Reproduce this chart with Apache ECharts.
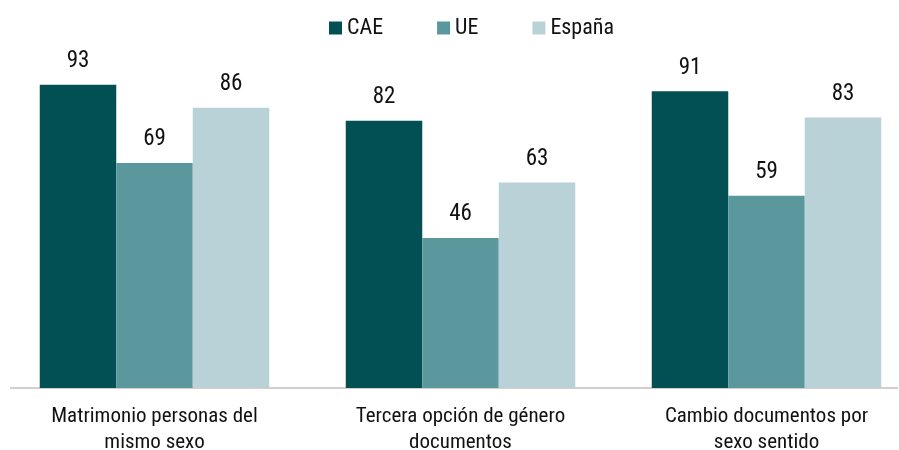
<!DOCTYPE html>
<html>
<head>
<meta charset="utf-8">
<script src="https://cdn.jsdelivr.net/npm/echarts@6/dist/echarts.min.js"></script>
<style>
  html, body { margin: 0; padding: 0; background: #fff; }
  #main { width: 899px; height: 450px; }
</style>
</head>
<body>
<div id="main"></div>
<script>
const categories = ['Matrimonio personas del\nmismo sexo', 'Tercera opción de género\ndocumentos', 'Cambio documentos por\nsexo sentido'];
const cae = [93, 82, 91];
const ue = [69, 46, 59];
const espana = [86, 63, 83];

const FONT = '"Liberation Sans Narrow", "Roboto Condensed", "DejaVu Sans Condensed", sans-serif';

const myChart = echarts.init(document.getElementById('main'));

const labelCfg = {
    show: true,
    position: 'top',
    distance: 12,
    fontFamily: FONT,
    fontSize: 23,
    color: '#111'
};

myChart.setOption({
    textStyle: { fontFamily: FONT },
    animation: false,
    legend: {
        top: 12,
        left: 324,
        itemWidth: 13,
        itemHeight: 13,
        itemGap: 54,
        icon: 'rect',
        textStyle: { fontFamily: FONT, fontSize: 22, color: '#111' }
    },
    grid: { left: 1.5, width: 918, top: 62, bottom: 62, containLabel: false, outerBoundsMode: 'none' },
    xAxis: {
        type: 'category',
        data: categories,
        axisLine: { show: false },
        axisTick: { show: false },
        axisLabel: {
            fontFamily: FONT,
            fontSize: 21,
            color: '#111',
            lineHeight: 26,
            margin: 16
        }
    },
    yAxis: {
        type: 'value',
        min: 0,
        max: 100,
        show: false,
        splitLine: { show: false }
    },
    graphic: [{
        type: 'line',
        shape: { x1: 10, y1: 388, x2: 898, y2: 388 },
        style: { stroke: '#d8cccc', lineWidth: 2 }
    }],
    series: [
        { name: 'CAE', type: 'bar', data: cae, barGap: 0, barCategoryGap: '25%', itemStyle: { color: '#024f54' }, label: labelCfg },
        { name: 'UE', type: 'bar', data: ue, itemStyle: { color: '#5a989e' }, label: labelCfg },
        { name: 'España', type: 'bar', data: espana, itemStyle: { color: '#b8d2d7' }, label: labelCfg }
    ]
});
</script>
</body>
</html>
